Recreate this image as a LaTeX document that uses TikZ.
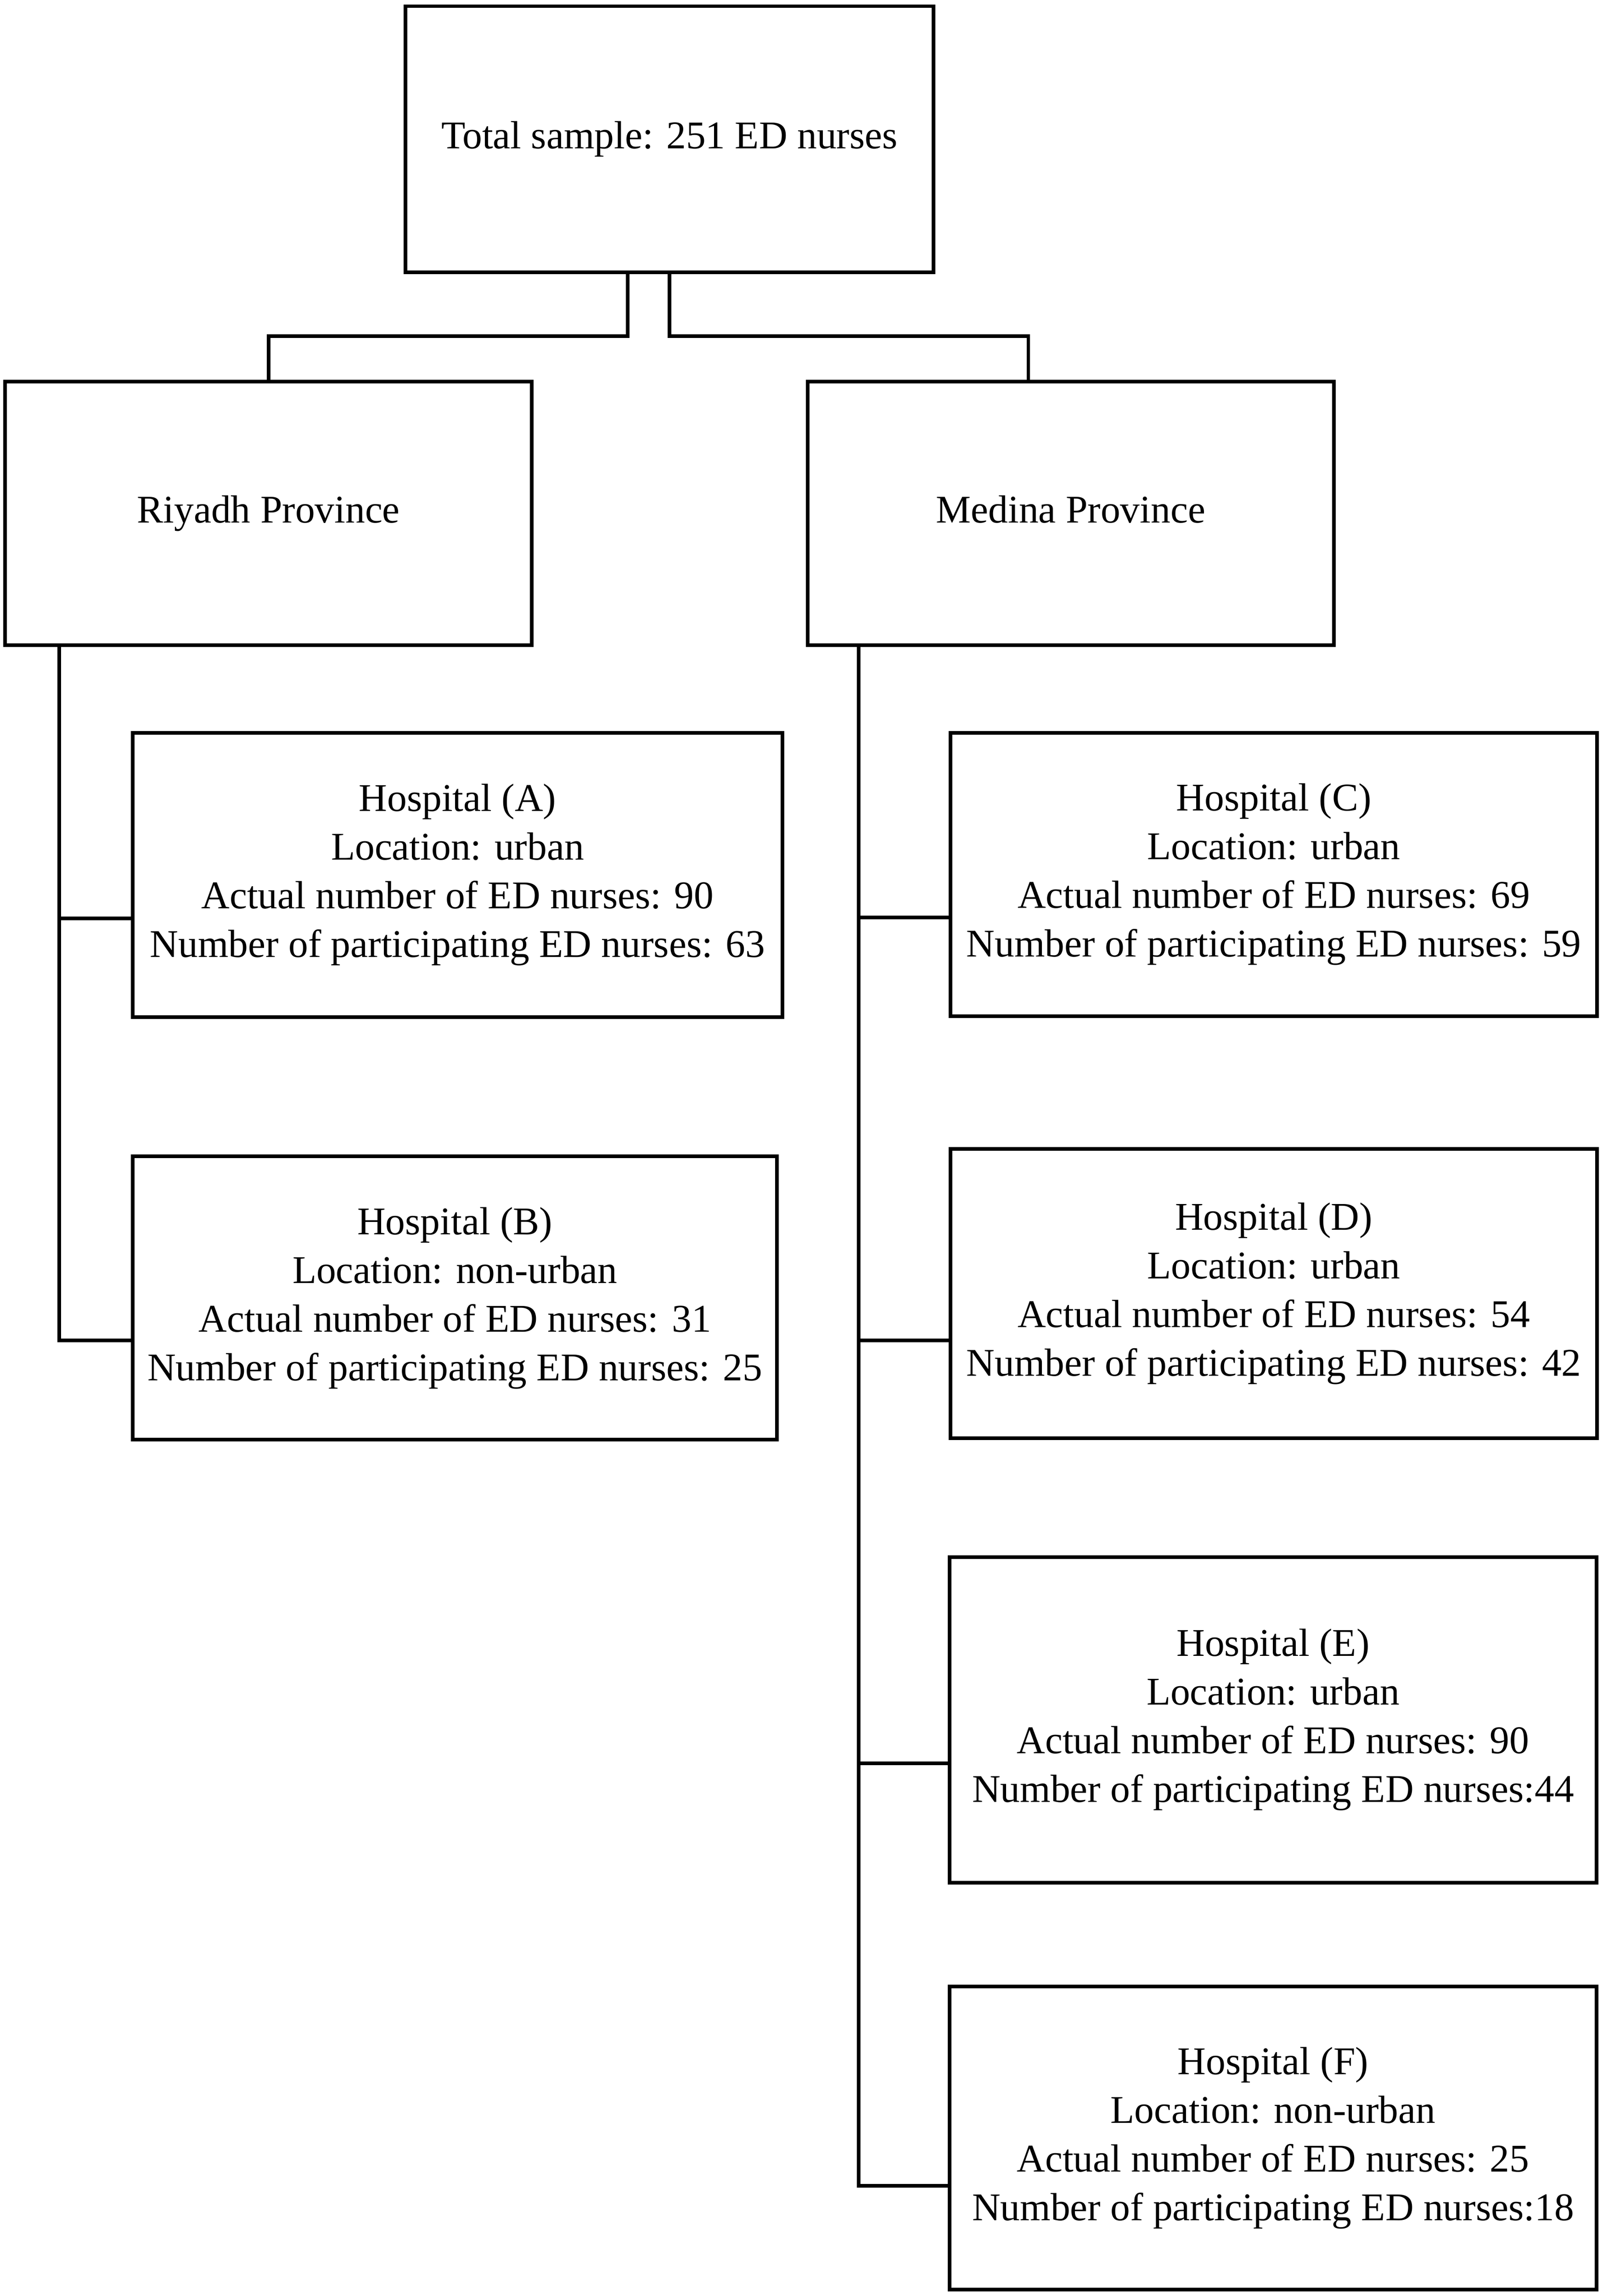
\documentclass[tikz,border=0pt]{standalone}
\usepackage{fontspec}
\setmainfont{Liberation Serif}
\usepackage{tikz}
\usetikzlibrary{positioning,calc}

\begin{document}
\begin{tikzpicture}[
    box/.style={draw, line width=1.2pt, align=center, inner sep=0pt,
      font=\fontsize{12.9}{16}\selectfont},
    link/.style={line width=1.2pt}
  ]
  % page frame
  \useasboundingbox (0,0) rectangle (18.512,-26.515);

  % Top box
  \node[box, minimum width=6.095cm, minimum height=3.073cm] (total) at (7.731,-1.608) {Total sample: 251 ED nurses};

  % Provinces
  \node[box, minimum width=6.081cm, minimum height=3.045cm] (riyadh) at (3.101,-5.929) {Riyadh Province};
  \node[box, minimum width=6.081cm, minimum height=3.045cm] (medina) at (12.366,-5.929) {Medina Province\vphantom{y}};

  % Left panel - Riyadh hospitals
  \node[box, minimum width=7.500cm, minimum height=3.286cm] (hospA) at (5.284,-10.104)
    {Hospital (A)\\Location: urban\\Actual number of ED nurses: 90\\Number of participating ED nurses: 63};
  \node[box, minimum width=7.440cm, minimum height=3.272cm] (hospB) at (5.254,-14.991)
    {Hospital (B)\\Location: non-urban\\Actual number of ED nurses: 31\\Number of participating ED nurses: 25};

  % Right panel - Medina hospitals
  \node[box, minimum width=7.463cm, minimum height=3.272cm] (hospC) at (14.711,-10.097)
    {Hospital (C)\\Location: urban\\Actual number of ED nurses: 69\\Number of participating ED nurses: 59};
  \node[box, minimum width=7.463cm, minimum height=3.341cm] (hospD) at (14.711,-14.938)
    {Hospital (D)\\Location: urban\\Actual number of ED nurses: 54\\Number of participating ED nurses: 42};
  \node[box, minimum width=7.472cm, minimum height=3.762cm] (hospE) at (14.702,-19.861)
    {Hospital (E)\\Location: urban\\Actual number of ED nurses: 90\\Number of participating ED nurses:44};
  \node[box, minimum width=7.472cm, minimum height=3.503cm] (hospF) at (14.702,-24.690)
    {Hospital (F)\\Location: non-urban\\Actual number of ED nurses: 25\\Number of participating ED nurses:18};

  % Top connectors
  \draw[link] ([xshift=-0.481cm]total.south) -- ++(0,-0.714) -| (riyadh.north);
  \draw[link] (total.south) -- ++(0,-0.714) -| ([xshift=-0.49cm]medina.north);

  % Trunks
  \coordinate (rtrunk) at ([xshift=0.647cm]riyadh.south west);
  \coordinate (mtrunk) at ([xshift=-2.449cm]medina.south);

  \foreach \h/\dy in {hospA/0.5, hospB/0.49} {
    \draw[link] (rtrunk) |- ([yshift=-\dy cm]\h.west);
  }
  \foreach \h/\dy in {hospC/0.5, hospD/0.54, hospE/0.5, hospF/0.55} {
    \draw[link] (mtrunk) |- ([yshift=-\dy cm]\h.west);
  }
\end{tikzpicture}
\end{document}
